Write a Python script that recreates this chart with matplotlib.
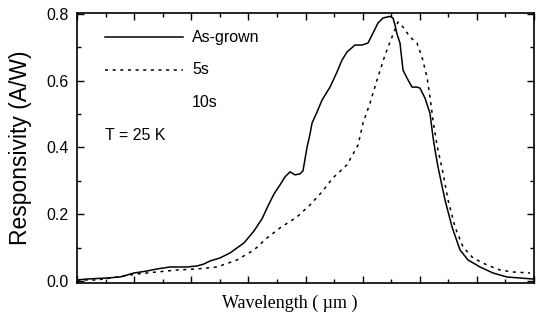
import matplotlib
matplotlib.use("Agg")
import matplotlib.pyplot as plt
from matplotlib.ticker import MultipleLocator, NullFormatter

# As-grown (solid) responsivity
wl_grown = [2.000, 2.175, 2.525, 2.753, 2.998, 3.226, 3.400, 3.628, 3.926, 4.101,
            4.223, 4.328, 4.503, 4.678, 4.923, 5.098, 5.238, 5.344, 5.449, 5.554,
            5.641, 5.729, 5.817, 5.904, 5.956, 6.026, 6.079, 6.114, 6.201, 6.289,
            6.429, 6.551, 6.639, 6.726, 6.866, 6.989, 7.094, 7.182, 7.269, 7.357,
            7.479, 7.532, 7.567, 7.602, 7.654, 7.707, 7.777, 7.864, 7.952, 8.004,
            8.092, 8.179, 8.232, 8.267, 8.319, 8.442, 8.565, 8.705, 8.845, 9.055,
            9.282, 9.527, 9.755, 9.982]
resp_grown = [0.003, 0.006, 0.009, 0.012, 0.024, 0.030, 0.036, 0.042, 0.042, 0.045,
              0.051, 0.060, 0.069, 0.084, 0.114, 0.150, 0.186, 0.225, 0.261, 0.288,
              0.312, 0.327, 0.318, 0.321, 0.330, 0.400, 0.440, 0.473, 0.506, 0.542,
              0.581, 0.626, 0.662, 0.686, 0.707, 0.707, 0.713, 0.743, 0.773, 0.788,
              0.793, 0.788, 0.767, 0.740, 0.713, 0.632, 0.608, 0.581, 0.581, 0.578,
              0.548, 0.503, 0.431, 0.393, 0.342, 0.243, 0.162, 0.093, 0.063, 0.042,
              0.024, 0.012, 0.009, 0.006]

# 5 s anneal (dashed)
wl_5s = [2.000, 2.350, 2.700, 3.050, 3.400, 3.751, 4.101, 4.451, 4.801, 5.098,
         5.326, 5.554, 5.851, 6.079, 6.289, 6.481, 6.726, 6.919, 7.007, 7.129,
         7.252, 7.392, 7.514, 7.619, 7.707, 7.829, 7.952, 8.039, 8.127, 8.179,
         8.232, 8.302, 8.407, 8.495, 8.617, 8.757, 8.932, 9.177, 9.405, 9.632,
         9.930]
resp_5s = [0.003, 0.003, 0.012, 0.021, 0.027, 0.033, 0.036, 0.042, 0.063, 0.093,
           0.129, 0.159, 0.192, 0.228, 0.267, 0.309, 0.348, 0.407, 0.473, 0.533,
           0.602, 0.677, 0.731, 0.776, 0.761, 0.731, 0.713, 0.671, 0.611, 0.551,
           0.482, 0.407, 0.324, 0.243, 0.162, 0.102, 0.069, 0.048, 0.033, 0.027,
           0.024]

legend_labels = ["As-grown", "5s", "10s"]

plt.rcParams['font.family'] = ['Liberation Sans', 'DejaVu Sans']

fig = plt.figure(figsize=(5.36, 3.18), dpi=100)
ax = fig.add_axes([77/536, 35/318, 457/536, 270/318])

ax.plot(wl_grown, resp_grown, color='black', lw=1.1)
ax.plot(wl_5s, resp_5s, color='black', lw=1.1, linestyle=(0, (2, 3)))

ax.set_xlim(2, 10)
ax.set_ylim(-0.006, 0.803)

ax.xaxis.set_major_locator(MultipleLocator(1.0))
ax.xaxis.set_minor_locator(MultipleLocator(0.5))
ax.xaxis.set_major_formatter(NullFormatter())
ax.yaxis.set_major_locator(MultipleLocator(0.2))
ax.yaxis.set_minor_locator(MultipleLocator(0.1))
ax.yaxis.set_major_formatter(plt.FuncFormatter(lambda v, p: f"{v:.1f}"))
ax.tick_params(which='both', direction='in', top=True, right=True, width=1)
ax.tick_params(which='major', length=5, labelsize=11.5, pad=6)
ax.tick_params(which='minor', length=3)
for s in ax.spines.values():
    s.set_linewidth(1.2)

ax.set_ylabel("Responsivity (A/W)", fontsize=16.5, labelpad=10)
ax.set_xlabel("Wavelength ( µm )", fontsize=13, family=['Liberation Serif', 'DejaVu Serif'])
ax.xaxis.set_label_coords(0.466, -0.045)

# legend drawn by hand, as in the original figure
ax.plot([0.061, 0.232], [0.911, 0.911], transform=ax.transAxes, color='black', lw=1.1)
ax.plot([0.061, 0.232], [0.789, 0.789], transform=ax.transAxes, color='black', lw=1.1,
        linestyle=(0, (2, 3)))
for lab, yy in zip(legend_labels, [0.911, 0.789, 0.670]):
    ax.text(0.252, yy, lab, transform=ax.transAxes, fontsize=11.5, va='center')
ax.text(0.061, 0.548, "T = 25 K", transform=ax.transAxes, fontsize=11.5, va='center')

fig.savefig("out.png", dpi=100)
